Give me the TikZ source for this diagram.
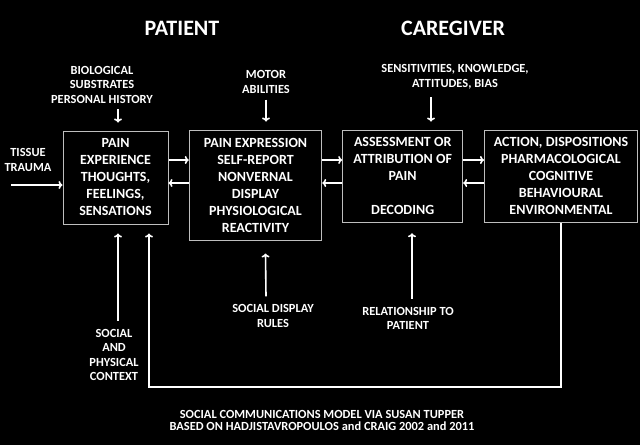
\documentclass[tikz,border=0pt]{standalone}
\usepackage{fontspec}
\setmainfont{Carlito}
\usetikzlibrary{arrows.meta,positioning}

\definecolor{boxgray}{RGB}{190,190,190}
\newcommand\boxfont{\bfseries\fontsize{14}{17}\selectfont}
\newcommand\lblfont{\bfseries\fontsize{12.4}{14.5}\selectfont}
\newcommand\ttlfont{\bfseries\fontsize{22}{26}\selectfont}

\tikzset{
  box/.style={draw=boxgray, fill=black, line width=1pt, text=white,
    align=center, font=\boxfont, inner sep=0pt},
  lbl/.style={text=white, align=center, font=\lblfont, inner sep=0pt},
  ttl/.style={text=white, font=\ttlfont, inner sep=0pt},
  arr/.style={draw=white, line width=1.6pt, -{To[length=4pt,width=8pt]}},
}

\begin{document}
\begin{tikzpicture}[x=1pt,y=-1pt]
  \fill[black] (0,0) rectangle (640,445);
  \useasboundingbox (0,0) rectangle (640,445);

  % titles
  \node[ttl] (patient) at (182,28) {PATIENT};
  \node[ttl] (caregiver) at (453,28) {CAREGIVER};

  % the four boxes
  \node[box, minimum width=105pt, minimum height=93pt] (b1) at (115.5,177.5)
    {PAIN\\EXPERIENCE\\THOUGHTS,\\FEELINGS,\\SENSATIONS};
  \node[box, minimum width=132.5pt, minimum height=110pt] (b2) at (255.5,185)
    {PAIN EXPRESSION\\SELF-REPORT\\NONVERNAL\\DISPLAY\\PHYSIOLOGICAL\\REACTIVITY};
  \node[box, minimum width=120pt, minimum height=92.7pt] (b3) at (402.7,176.4)
    {ASSESSMENT OR\\ATTRIBUTION OF\\PAIN\\[17pt]DECODING};
  \node[box, minimum width=153pt, minimum height=92.7pt] (b4) at (561,176.4)
    {ACTION, DISPOSITIONS\\PHARMACOLOGICAL\\COGNITIVE\\BEHAVIOURAL\\ENVIRONMENTAL};

  % influences
  \node[lbl] (tissue) at (28,160) {TISSUE\\TRAUMA};
  \node[lbl] (bio) at (102,84.5) {BIOLOGICAL\\SUBSTRATES\\PERSONAL HISTORY};
  \node[lbl] (motor) at (266,82) {MOTOR\\ABILITIES};
  \node[lbl] (sens) at (455,77) {SENSITIVITIES, KNOWLEDGE,\\ATTITUDES, BIAS};
  \node[lbl] (ctx) at (114,355) {SOCIAL\\AND\\PHYSICAL\\CONTEXT};
  \node[lbl] (rules) at (273,316) {SOCIAL DISPLAY\\RULES};
  \node[lbl] (rel) at (408,318.5) {RELATIONSHIP TO\\PATIENT};

  \node[lbl, font=\bfseries\fontsize{12.4}{12}\selectfont] (caption) at (322,420)
    {SOCIAL COMMUNICATIONS MODEL VIA SUSAN TUPPER\\BASED ON HADJISTAVROPOULOS and CRAIG 2002 and 2011};

  % box to box
  \draw[arr] (b1.east |- 0,160) -- (b2.west |- 0,160);
  \draw[arr] (b2.west |- 0,183) -- (b1.east |- 0,183);
  \draw[arr] (b2.east |- 0,160) -- (b3.west |- 0,160);
  \draw[arr] (b3.west |- 0,183) -- (b2.east |- 0,183);
  \draw[arr] (b3.east |- 0,160) -- (b4.west |- 0,160);
  \draw[arr] (b4.west |- 0,183) -- (b3.east |- 0,183);

  % inputs
  \draw[arr] ([xshift=7pt]tissue.west |- 0,185) -- (b1.west |- 0,185);
  \draw[arr] ([xshift=16pt,yshift=-6pt]bio.south) -- ([xshift=2.5pt,yshift=8pt]b1.north);
  \draw[arr] (motor.south) ++(0,6) -- ([yshift=8pt]motor.south |- b2.north);
  \draw[arr] ([xshift=-24pt,yshift=-8pt]sens.south) -- ([xshift=28.3pt,yshift=8pt]b3.north);
  \draw[arr] ([xshift=4pt,yshift=8pt]ctx.north) -- ([xshift=2.5pt,yshift=-9pt]b1.south);
  \draw[arr] ([xshift=-7pt,yshift=8pt]rules.north) -- ([xshift=10pt,yshift=-13pt]b2.south);
  \draw[arr] ([xshift=4pt,yshift=8pt]rel.north) -- ([xshift=9.3pt,yshift=-10pt]b3.south);

  % feedback
  \draw[arr] (b4.south) -- (b4.south |- 0,387) -| ([xshift=33.5pt,yshift=-9pt]b1.south);
\end{tikzpicture}
\end{document}
